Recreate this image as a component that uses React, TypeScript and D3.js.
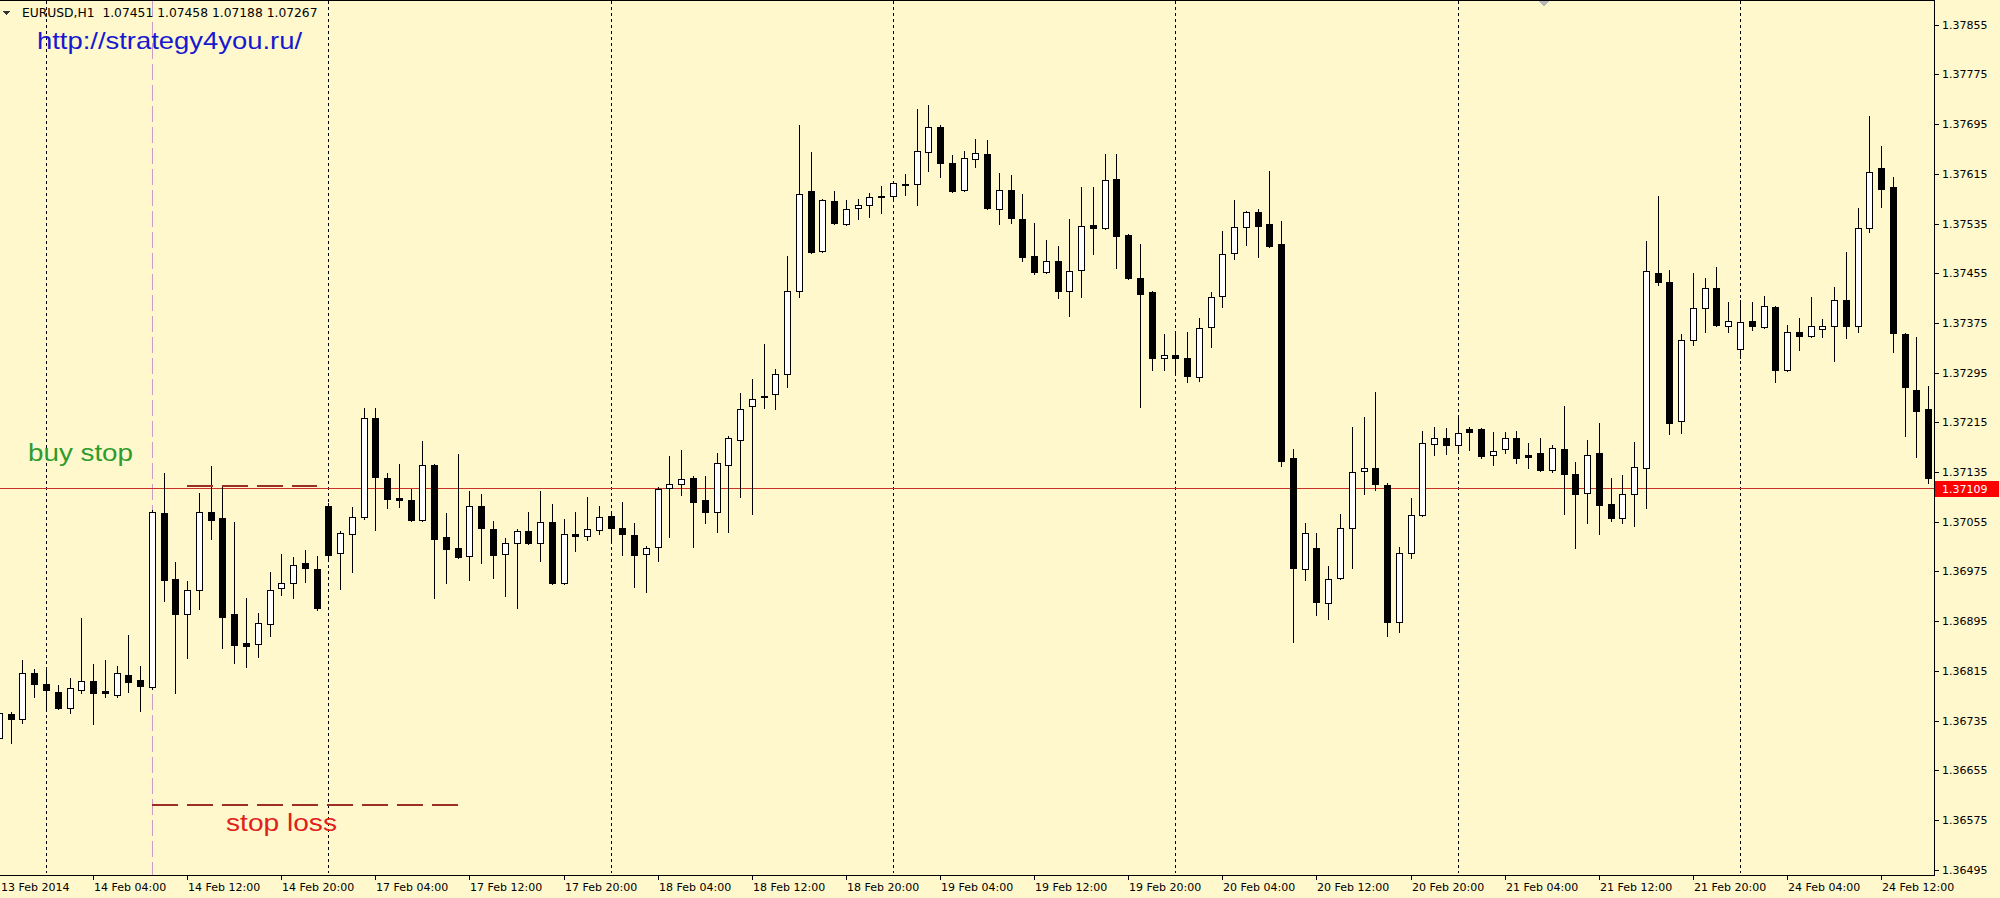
import React from "react";
import * as d3 from "d3";

// ---- Data (EURUSD H1, 13 Feb 2014 20:00 .. 24 Feb 2014 16:00) ----
const OPEN = [
  1.36707, 1.36745, 1.36737, 1.36811, 1.36794, 1.36781, 1.36755, 1.36784, 1.36799, 1.36782,
  1.36776, 1.36808, 1.36800, 1.36789, 1.37069, 1.36963, 1.36906, 1.36945, 1.37071, 1.37061,
  1.36906, 1.36860, 1.36858, 1.36890, 1.36948, 1.36956, 1.36989, 1.36979, 1.37080, 1.37005,
  1.37035, 1.37063, 1.37222, 1.37125, 1.37093, 1.37090, 1.37058, 1.37146, 1.37030, 1.37013,
  1.37000, 1.37080, 1.37043, 1.37003, 1.37021, 1.37040, 1.37021, 1.37055, 1.36956, 1.37035,
  1.37032, 1.37042, 1.37064, 1.37045, 1.37034, 1.37003, 1.37014, 1.37109, 1.37116, 1.37125,
  1.37090, 1.37071, 1.37146, 1.37187, 1.37241, 1.37257, 1.37261, 1.37293, 1.37426, 1.37587,
  1.37491, 1.37571, 1.37534, 1.37560, 1.37565, 1.37579, 1.37579, 1.37597, 1.37599, 1.37650,
  1.37691, 1.37633, 1.37589, 1.37639, 1.37647, 1.37559, 1.37589, 1.37542, 1.37483, 1.37457,
  1.37475, 1.37426, 1.37460, 1.37533, 1.37528, 1.37607, 1.37517, 1.37447, 1.37425, 1.37319,
  1.37323, 1.37319, 1.37288, 1.37369, 1.37418, 1.37488, 1.37530, 1.37554, 1.37534, 1.37502,
  1.37158, 1.36979, 1.37013, 1.36924, 1.36964, 1.37045, 1.37137, 1.37142, 1.37114, 1.36894,
  1.37005, 1.37066, 1.37180, 1.37190, 1.37179, 1.37204, 1.37204, 1.37162, 1.37172, 1.37190,
  1.37162, 1.37166, 1.37138, 1.37172, 1.37132, 1.37101, 1.37166, 1.37084, 1.37061, 1.37100,
  1.37142, 1.37455, 1.37441, 1.37217, 1.37348, 1.37399, 1.37431, 1.37370, 1.37333, 1.37378,
  1.37369, 1.37401, 1.37299, 1.37360, 1.37354, 1.37365, 1.37370, 1.37412, 1.37370, 1.37528,
  1.37625, 1.37594, 1.37357, 1.37267, 1.37237,
];
const HIGH = [
  1.36752, 1.36749, 1.36832, 1.36818, 1.36816, 1.36792, 1.36803, 1.36900, 1.36826, 1.36832,
  1.36823, 1.36873, 1.36823, 1.37074, 1.37133, 1.36990, 1.36960, 1.37101, 1.37145, 1.37114,
  1.37055, 1.36932, 1.36908, 1.36974, 1.37003, 1.36998, 1.37009, 1.37000, 1.37085, 1.37040,
  1.37079, 1.37238, 1.37238, 1.37133, 1.37148, 1.37108, 1.37185, 1.37148, 1.37069, 1.37164,
  1.37104, 1.37100, 1.37056, 1.37029, 1.37043, 1.37071, 1.37104, 1.37084, 1.37059, 1.37071,
  1.37095, 1.37080, 1.37067, 1.37087, 1.37053, 1.37016, 1.37111, 1.37161, 1.37170, 1.37129,
  1.37129, 1.37166, 1.37193, 1.37262, 1.37285, 1.37341, 1.37301, 1.37483, 1.37694, 1.37650,
  1.37575, 1.37587, 1.37573, 1.37575, 1.37584, 1.37596, 1.37604, 1.37615, 1.37720, 1.37726,
  1.37694, 1.37645, 1.37652, 1.37671, 1.37670, 1.37616, 1.37613, 1.37583, 1.37536, 1.37509,
  1.37499, 1.37542, 1.37594, 1.37594, 1.37647, 1.37647, 1.37518, 1.37502, 1.37426, 1.37357,
  1.37360, 1.37360, 1.37383, 1.37425, 1.37523, 1.37573, 1.37555, 1.37559, 1.37620, 1.37539,
  1.37172, 1.37053, 1.37037, 1.36984, 1.37067, 1.37208, 1.37224, 1.37264, 1.37117, 1.37014,
  1.37093, 1.37201, 1.37208, 1.37206, 1.37224, 1.37208, 1.37206, 1.37199, 1.37199, 1.37201,
  1.37182, 1.37190, 1.37179, 1.37241, 1.37151, 1.37187, 1.37214, 1.37125, 1.37130, 1.37183,
  1.37507, 1.37579, 1.37460, 1.37357, 1.37455, 1.37447, 1.37465, 1.37409, 1.37412, 1.37409,
  1.37418, 1.37402, 1.37372, 1.37383, 1.37417, 1.37381, 1.37433, 1.37489, 1.37560, 1.37708,
  1.37660, 1.37610, 1.37359, 1.37352, 1.37274,
];
const LOW = [
  1.36696, 1.36699, 1.36731, 1.36773, 1.36752, 1.36754, 1.36747, 1.36779, 1.36729, 1.36773,
  1.36773, 1.36781, 1.36750, 1.36786, 1.36927, 1.36779, 1.36836, 1.36915, 1.37027, 1.36852,
  1.36828, 1.36821, 1.36837, 1.36871, 1.36937, 1.36932, 1.36958, 1.36913, 1.36993, 1.36947,
  1.36974, 1.37059, 1.37042, 1.37077, 1.37079, 1.37056, 1.37056, 1.36932, 1.36956, 1.36997,
  1.36961, 1.36989, 1.36964, 1.36935, 1.36916, 1.37019, 1.36992, 1.36955, 1.36955, 1.37008,
  1.37026, 1.37035, 1.37022, 1.37001, 1.36950, 1.36942, 1.36992, 1.37030, 1.37098, 1.37014,
  1.37053, 1.37038, 1.37038, 1.37095, 1.37067, 1.37238, 1.37237, 1.37272, 1.37417, 1.37488,
  1.37489, 1.37534, 1.37533, 1.37542, 1.37546, 1.37552, 1.37576, 1.37581, 1.37565, 1.37620,
  1.37610, 1.37586, 1.37587, 1.37626, 1.37559, 1.37534, 1.37536, 1.37475, 1.37454, 1.37455,
  1.37415, 1.37386, 1.37417, 1.37486, 1.37526, 1.37464, 1.37446, 1.37240, 1.37299, 1.37299,
  1.37291, 1.37280, 1.37282, 1.37336, 1.37401, 1.37478, 1.37501, 1.37481, 1.37497, 1.37145,
  1.36861, 1.36961, 1.36905, 1.36898, 1.36963, 1.36981, 1.37100, 1.37106, 1.36871, 1.36877,
  1.36997, 1.37064, 1.37162, 1.37164, 1.37170, 1.37170, 1.37158, 1.37146, 1.37166, 1.37150,
  1.37142, 1.37137, 1.37135, 1.37067, 1.37013, 1.37053, 1.37035, 1.37056, 1.37053, 1.37048,
  1.37077, 1.37436, 1.37196, 1.37198, 1.37340, 1.37360, 1.37370, 1.37360, 1.37319, 1.37364,
  1.37367, 1.37280, 1.37298, 1.37331, 1.37352, 1.37352, 1.37314, 1.37351, 1.37360, 1.37521,
  1.37562, 1.37328, 1.37193, 1.37159, 1.37117,
];
const CLOSE = [
  1.36747, 1.36737, 1.36811, 1.36794, 1.36784, 1.36755, 1.36787, 1.36799, 1.36779, 1.36779,
  1.36811, 1.36797, 1.36791, 1.37071, 1.36961, 1.36906, 1.36945, 1.37071, 1.37058, 1.36902,
  1.36857, 1.36855, 1.36892, 1.36945, 1.36956, 1.36985, 1.36981, 1.36916, 1.37001, 1.37037,
  1.37063, 1.37222, 1.37127, 1.37092, 1.37090, 1.37058, 1.37146, 1.37027, 1.37011, 1.36998,
  1.37080, 1.37045, 1.37001, 1.37021, 1.37040, 1.37021, 1.37055, 1.36956, 1.37035, 1.37032,
  1.37043, 1.37063, 1.37045, 1.37035, 1.37001, 1.37013, 1.37108, 1.37116, 1.37124, 1.37087,
  1.37071, 1.37150, 1.37190, 1.37237, 1.37253, 1.37256, 1.37293, 1.37426, 1.37583, 1.37489,
  1.37573, 1.37536, 1.37559, 1.37565, 1.37578, 1.37578, 1.37600, 1.37599, 1.37652, 1.37691,
  1.37633, 1.37587, 1.37641, 1.37649, 1.37560, 1.37589, 1.37544, 1.37481, 1.37457, 1.37475,
  1.37426, 1.37459, 1.37531, 1.37528, 1.37605, 1.37515, 1.37447, 1.37422, 1.37319, 1.37323,
  1.37319, 1.37290, 1.37367, 1.37417, 1.37486, 1.37530, 1.37554, 1.37531, 1.37499, 1.37153,
  1.36981, 1.37037, 1.36926, 1.36963, 1.37045, 1.37135, 1.37142, 1.37116, 1.36894, 1.37005,
  1.37066, 1.37182, 1.37190, 1.37179, 1.37198, 1.37199, 1.37161, 1.37169, 1.37190, 1.37158,
  1.37159, 1.37138, 1.37174, 1.37132, 1.37100, 1.37162, 1.37082, 1.37061, 1.37100, 1.37143,
  1.37459, 1.37441, 1.37214, 1.37348, 1.37399, 1.37431, 1.37372, 1.37378, 1.37377, 1.37370,
  1.37402, 1.37299, 1.37360, 1.37354, 1.37370, 1.37370, 1.37412, 1.37370, 1.37528, 1.37618,
  1.37591, 1.37359, 1.37272, 1.37233, 1.37125,
];

const FIRST_LABEL = "13 Feb 2014";
const X_TICK_BARS = [8, 16, 24, 32, 40, 48, 56, 64, 72, 80, 88, 96, 104, 112, 120, 128, 136, 144, 152, 160];
const X_TICK_LABELS = [
  "14 Feb 04:00", "14 Feb 12:00", "14 Feb 20:00", "17 Feb 04:00", "17 Feb 12:00",
  "17 Feb 20:00", "18 Feb 04:00", "18 Feb 12:00", "18 Feb 20:00", "19 Feb 04:00",
  "19 Feb 12:00", "19 Feb 20:00", "20 Feb 04:00", "20 Feb 12:00", "20 Feb 20:00",
  "21 Feb 04:00", "21 Feb 12:00", "21 Feb 20:00", "24 Feb 04:00", "24 Feb 12:00",
];
const DAY_SEPARATOR_BARS = [4, 28, 52, 76, 100, 124, 148];
const Y_TICKS = [
  1.37855, 1.37775, 1.37695, 1.37615, 1.37535, 1.37455, 1.37375, 1.37295, 1.37215,
  1.37135, 1.37055, 1.36975, 1.36895, 1.36815, 1.36735, 1.36655, 1.36575, 1.36495,
];
const HLINE_PRICE = 1.37109;
const ENTRY_BAR = 13;
const BUY_STOP_PRICE = 1.37112;
const BUY_STOP_BARS = [16, 27];
const STOP_LOSS_PRICE = 1.36599;
const STOP_LOSS_BARS = [13, 39];
const SHIFT_MARK_BAR = 131.3;
const HEADER = "EURUSD,H1  1.07451 1.07458 1.07188 1.07267";
const URL_TEXT = "http://strategy4you.ru/";

const W = 2000;
const H = 898;
const PLOT_R = 1934;
const PLOT_B = 875;
const BG = "#fff8cc";
const AXIS_FONT = "'DejaVu Sans', sans-serif";
const TEXT_FONT = "'Liberation Sans', Arial, sans-serif";

export default function App() {
  const n = OPEN.length;
  const x = d3.scaleLinear().domain([0, n - 1]).range([-1.06, 1928.2]);
  const y = d3.scaleLinear().domain([1.36495, 1.37855]).range([869.6, 24.8]);
  const cx = (i: number) => Math.round(x(i));
  const ry = (v: number) => Math.round(y(v));

  const candles = d3.range(n).map((i) => {
    const o = OPEN[i], c = CLOSE[i], h = HIGH[i], l = LOW[i];
    const bull = c >= o;
    const top = ry(Math.max(o, c));
    const bot = ry(Math.min(o, c));
    const xc = cx(i);
    return (
      <g key={i}>
        <line x1={xc + 0.5} x2={xc + 0.5} y1={ry(h)} y2={ry(l) + 1} stroke="#000" strokeWidth={1} />
        {bot - top >= 1 ? (
          <rect x={xc - 2.5} y={top + 0.5} width={6} height={bot - top} fill={bull ? "#ffffff" : "#000000"} stroke="#000" strokeWidth={1} />
        ) : (
          <line x1={xc - 3} x2={xc + 4} y1={top + 0.5} y2={top + 0.5} stroke="#000" strokeWidth={1} />
        )}
      </g>
    );
  });

  const hy = ry(HLINE_PRICE) + 0.5;
  const mark = Math.round(x(SHIFT_MARK_BAR));

  return (
    <div style={{ position: "absolute", left: 0, top: 0 }}>
      <svg width={W} height={H} style={{ display: "block" }} shapeRendering="crispEdges">
        <rect x={0} y={0} width={W} height={H} fill={BG} />

        {/* day separators */}
        {DAY_SEPARATOR_BARS.map((b) => (
          <line key={b} x1={cx(b) + 0.5} x2={cx(b) + 0.5} y1={1} y2={PLOT_B - 2} stroke="#000" strokeWidth={1} strokeDasharray="3,3" />
        ))}
        {/* entry vertical line */}
        <line x1={cx(ENTRY_BAR) + 0.5} x2={cx(ENTRY_BAR) + 0.5} y1={1} y2={PLOT_B} stroke="#cc9cc4" strokeWidth={1} strokeDasharray="16,5" />
        {/* horizontal line */}
        <line x1={0} x2={PLOT_R} y1={hy} y2={hy} stroke="#c8322a" strokeWidth={1} />

        {candles}

        {/* buy stop / stop loss dashed segments */}
        <line x1={cx(BUY_STOP_BARS[0])} x2={cx(BUY_STOP_BARS[1])} y1={ry(BUY_STOP_PRICE)} y2={ry(BUY_STOP_PRICE)} stroke="#9c2e28" strokeWidth={2} strokeDasharray="26,9" />
        <line x1={cx(STOP_LOSS_BARS[0])} x2={cx(STOP_LOSS_BARS[1])} y1={ry(STOP_LOSS_PRICE)} y2={ry(STOP_LOSS_PRICE)} stroke="#9c2e28" strokeWidth={2} strokeDasharray="26,9" />

        {/* annotations */}
        <text x={28} y={ry(BUY_STOP_PRICE) - 25} fill="#2e9b2e" fontFamily={TEXT_FONT} fontSize={23} textLength={105} lengthAdjust="spacingAndGlyphs">buy stop</text>
        <text x={226} y={ry(STOP_LOSS_PRICE) + 26} fill="#e0201a" fontFamily={TEXT_FONT} fontSize={23} textLength={111} lengthAdjust="spacingAndGlyphs">stop loss</text>

        {/* header */}
        <path d="M3,11 L10,11 L6.5,15 Z" fill="#333" />
        <text x={22} y={17} fontFamily={AXIS_FONT} fontSize={12.3} fill="#000" style={{ whiteSpace: "pre" }}>{HEADER}</text>
        <text x={37} y={49} fill="#1818d0" fontFamily={TEXT_FONT} fontSize={24} textLength={265} lengthAdjust="spacingAndGlyphs">{URL_TEXT}</text>

        {/* shift marker */}
        <path d={`M${mark - 5},1 L${mark + 5},1 L${mark},7 Z`} fill="#b8b8b8" />

        {/* frame */}
        <line x1={0} x2={PLOT_R + 1} y1={0.5} y2={0.5} stroke="#000" />
        <line x1={PLOT_R + 0.5} x2={PLOT_R + 0.5} y1={0} y2={PLOT_B + 1} stroke="#000" />
        <line x1={0} x2={PLOT_R + 1} y1={PLOT_B + 0.5} y2={PLOT_B + 0.5} stroke="#000" />

        {/* right axis */}
        {Y_TICKS.map((t) => (
          <g key={t}>
            <line x1={PLOT_R + 1} x2={PLOT_R + 5} y1={ry(t) + 0.5} y2={ry(t) + 0.5} stroke="#000" />
            <text x={PLOT_R + 8} y={ry(t) + 4} fontFamily={AXIS_FONT} fontSize={11} fill="#000">{t.toFixed(5)}</text>
          </g>
        ))}
        <rect x={PLOT_R + 1} y={hy - 8} width={64} height={16} fill="#ff0000" />
        <text x={PLOT_R + 8} y={hy + 4} fontFamily={AXIS_FONT} fontSize={11} fill="#ffffff">{HLINE_PRICE.toFixed(5)}</text>

        {/* bottom axis */}
        <text x={1} y={PLOT_B + 16} fontFamily={AXIS_FONT} fontSize={11} fill="#000">{FIRST_LABEL}</text>
        {X_TICK_BARS.map((b, k) => (
          <g key={b}>
            <line x1={cx(b) + 0.5} x2={cx(b) + 0.5} y1={PLOT_B + 1} y2={PLOT_B + 5} stroke="#000" />
            <text x={cx(b) + 1} y={PLOT_B + 16} fontFamily={AXIS_FONT} fontSize={11} fill="#000">{X_TICK_LABELS[k]}</text>
          </g>
        ))}
      </svg>
    </div>
  );
}
